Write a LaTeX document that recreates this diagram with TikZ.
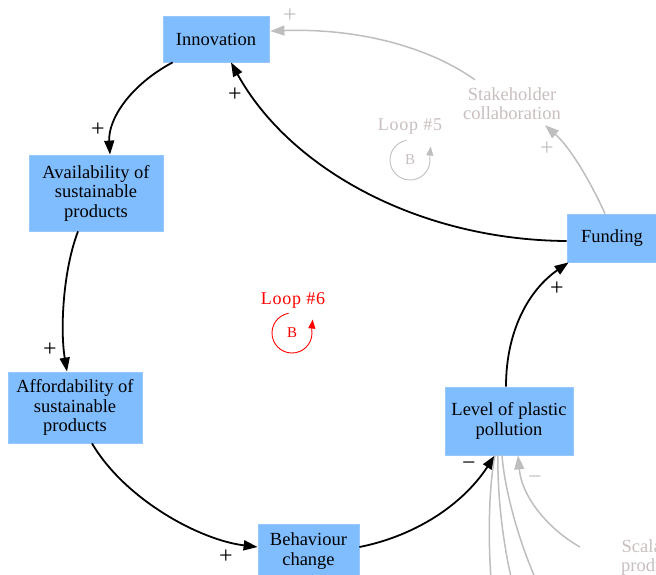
\documentclass[tikz,border=0pt]{standalone}
\usepackage{fontspec}
\setmainfont{Liberation Serif}
\usetikzlibrary{arrows.meta,calc}
\definecolor{boxblue}{RGB}{128,189,255}
\definecolor{boxedge}{RGB}{150,200,255}
\definecolor{lgray}{RGB}{190,190,190}
\definecolor{tgray}{RGB}{200,190,190}
\definecolor{loopred}{RGB}{255,0,0}
\begin{document}
\begin{tikzpicture}[x=1pt,y=-1pt,
  box/.style={fill=boxblue, draw=boxedge, line width=0.8pt, inner sep=0pt, align=center,
    font=\fontsize{18.5}{19.5}\selectfont, text=black},
  gtext/.style={inner sep=0pt, align=center, text=tgray, font=\fontsize{18.5}{19}\selectfont},
  conn/.style={line width=1.8pt, draw=black, -{Triangle[length=14pt,width=10pt]}},
  gconn/.style={line width=1.5pt, draw=lgray, -{Triangle[length=14pt,width=10pt,fill=lgray]}},
  gline/.style={line width=1.5pt, draw=lgray},
  pol/.style={inner sep=0pt, font=\fontsize{24}{24}\selectfont, text=black},
  gpol/.style={pol, text=lgray},
  looptext/.style={inner sep=0pt, font=\fontsize{18}{18}\selectfont\addfontfeature{LetterSpace=4}},
  loopb/.style={inner sep=0pt, font=\fontsize{15}{15}\selectfont}
]
\useasboundingbox (0,0) rectangle (656,574);
\clip (0,0) rectangle (656,574);

% nodes
\node[box, minimum width=106pt, minimum height=46pt] (inn) at (216,39) {Innovation};
\node[box, minimum width=134pt, minimum height=76pt] (avail) at (96,193) {Availability of\\sustainable\\products};
\node[box, minimum width=134pt, minimum height=71pt] (afford) at (75,407.5) {Affordability of\\sustainable\\products};
\node[box, minimum width=101pt, minimum height=54pt] (beh) at (308.5,551) {Behaviour\\change};
\node[box, minimum width=128pt, minimum height=68pt] (lev) at (509,421) {Level of plastic\\pollution};
\node[box, minimum width=90pt, minimum height=48pt] (fund) at (612,238) {Funding};
\node[gtext] (stake) at (512,104) {Stakeholder\\collaboration};
\node[gtext] (scal) at (653,558) {Scalable\\products};

% free ends of outgoing links
\coordinate (e1) at (492,590);
\coordinate (e2) at (517,600);
\coordinate (e3) at (546,600);

% black links
\draw[conn] ($(inn.south west)+(10,0)$) .. controls +(-43,23) and +(-2,-35) .. ($(avail.north)+(14,0)$);
\draw[conn] ($(avail.south)+(-18,0)$) .. controls +(-15,39) and +(-7,-42) .. ($(afford.north)+(-8,0)$);
\draw[conn] ($(afford.south)+(17,0)$) .. controls +(33,56) and +(-58,-7) .. ($(beh.west)+(0,-4)$);
\draw[conn] ($(beh.east)+(0,-4)$) .. controls +(51,-10) and +(-35,53) .. ($(lev.south)+(-14,0)$);
\draw[conn] ($(lev.north)+(-3,0)$) .. controls +(0,-57) and +(-39,27) .. ($(fund.south west)+(2,0)$);
\draw[conn] ($(fund.west)+(0,3)$) .. controls +(-147,-1) and +(59,107) .. ($(inn.south)+(15,0)$);

% grey links
\draw[gconn] ($(stake.north west)+(12,-8)$) .. controls +(-45,-32) and +(90,-3) .. ($(inn.east)+(1,-8)$);
\draw[gconn] ($(fund.north)+(-7,0)$) .. controls +(-15,-33) and +(25,22) .. ($(stake.south)+(33,5)$);
\draw[gconn] ($(scal.west)+(-41,-11)$) .. controls +(-30,-17) and +(4,43) .. ($(lev.south)+(9,0)$);
\draw[gline] ($(lev.south)+(-14,0)$) .. controls +(-7,35) and +(-4,-40) .. (e1);
\draw[gline] ($(lev.south)+(-11,0)$) .. controls +(-1,45) and +(-12,-40) .. (e2);
\draw[gline] ($(lev.south)+(-7,0)$) .. controls +(3,40) and +(-22,-40) .. (e3);

% polarities
\node[pol] (p1) at (98,130) {+};
\node[pol] (p2) at (50,350) {+};
\node[pol] (p3) at (226,557) {+};
\node[pol] (p4) at (469,466) {−};
\node[pol] (p5) at (557,289) {+};
\node[pol] (p6) at (235,95) {+};
\node[gpol] (p7) at (290,16) {+};
\node[gpol] (p8) at (547,149) {+};
\node[gpol] (p9) at (535,480) {−};

% loop #6
\node[looptext, text=loopred] (l6) at (293,300) {Loop \#6};
\node[loopb, text=loopred] (b6) at (292,333) {B};
\draw[loopred, line width=0.9pt, -{Triangle[length=9pt,width=7pt]}]
  ([shift={(-100:20)}]b6.center) arc[start angle=-100, end angle=-370, radius=20] -- ++(1,-10);

% loop #5
\node[looptext, text=tgray] (l5) at (410,127) {Loop \#5};
\node[loopb, text=tgray] (b5) at (410,160) {B};
\draw[lgray, line width=0.9pt, -{Triangle[length=9pt,width=7pt,fill=lgray]}]
  ([shift={(-100:20)}]b5.center) arc[start angle=-100, end angle=-370, radius=20] -- ++(1,-10);
\end{tikzpicture}
\end{document}
